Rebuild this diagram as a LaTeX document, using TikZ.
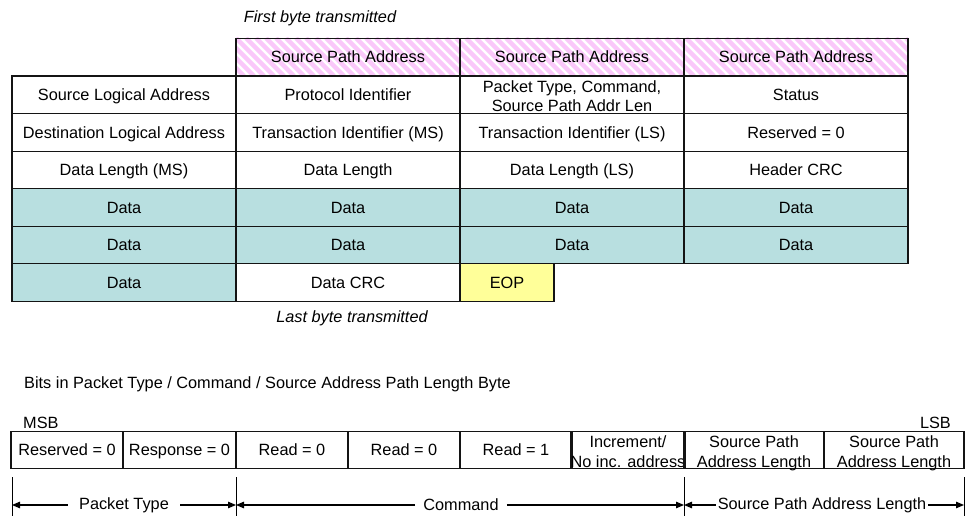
\documentclass[tikz,border=0pt]{standalone}
\usepackage{fontspec}
\setmainfont{Liberation Sans}
\usetikzlibrary{arrows.meta}
\definecolor{datafill}{RGB}{184,223,224}
\definecolor{eopfill}{RGB}{255,255,153}
\definecolor{stripe}{RGB}{250,200,250}
\definecolor{gridline}{RGB}{20,20,20}
\begin{document}
\begin{tikzpicture}[x=1pt,y=-1pt,
  every node/.style={font=\fontsize{16.3}{19.4}\selectfont},
  cell/.style={draw=gridline, line width=1.15pt, inner sep=0pt, minimum width=224pt, minimum height=37.57pt, align=center, text height=11.7pt, text depth=0pt},
  twoline/.style={text height=34.2pt, text depth=0pt},
  datacell/.style={cell, fill=datafill},
  bcell/.style={draw=gridline, line width=1.15pt, inner sep=0pt, minimum height=37.5pt, align=center, text height=11.7pt, text depth=0pt},
  note/.style={font=\fontsize{16.3}{19.4}\selectfont\itshape, inner sep=0pt},
  plain/.style={inner sep=0pt},
  arr/.style={line width=1.2pt, -{Triangle[length=8pt,width=6.5pt]}},
  tick/.style={line width=1pt}]
\useasboundingbox (0,0) rectangle (967,516);

% striped header background
\begin{scope}
  \clip (236,38) rectangle (908,76);
  \foreach \i in {-60,-50,...,700} {
    \draw[stripe, line width=4.5pt] ({236+\i},38) -- ++(38,38);
  }
\end{scope}

\node[note, anchor=base] (first) at (320,23) {First byte transmitted};

% header row
\node[cell] (h2) at (348,57) {Source Path Address};
\node[cell] (h3) at (572,57) {Source Path Address};
\node[cell] (h4) at (796,57) {Source Path Address};

% row 1
\node[cell] (r1c1) at (124,94.8) {Source Logical Address};
\node[cell] (r1c2) at (348,94.8) {Protocol Identifier};
\node[cell, twoline] (r1c3) at (572,94.8) {Packet Type, Command,\\Source Path Addr Len};
\node[cell] (r1c4) at (796,94.8) {Status};
% row 2
\node[cell] (r2c1) at (124,132.4) {Destination Logical Address};
\node[cell] (r2c2) at (348,132.4) {Transaction Identifier (MS)};
\node[cell] (r2c3) at (572,132.4) {Transaction Identifier (LS)};
\node[cell] (r2c4) at (796,132.4) {Reserved = 0};
% row 3
\node[cell] (r3c1) at (124,169.9) {Data Length (MS)};
\node[cell] (r3c2) at (348,169.9) {Data Length};
\node[cell] (r3c3) at (572,169.9) {Data Length (LS)};
\node[cell] (r3c4) at (796,169.9) {Header CRC};
% data rows
\node[datacell] (r4c1) at (124,207.5) {Data};
\node[datacell] (r4c2) at (348,207.5) {Data};
\node[datacell] (r4c3) at (572,207.5) {Data};
\node[datacell] (r4c4) at (796,207.5) {Data};
\node[datacell] (r5c1) at (124,245.1) {Data};
\node[datacell] (r5c2) at (348,245.1) {Data};
\node[datacell] (r5c3) at (572,245.1) {Data};
\node[datacell] (r5c4) at (796,245.1) {Data};
% last row
\node[datacell] (r6c1) at (124,282.7) {Data};
\node[cell] (r6c2) at (348,282.7) {Data CRC};
\node[cell, fill=eopfill, minimum width=94pt] (eop) at (507,282.7) {EOP};

\node[note, anchor=base] (last) at (352,322.7) {Last byte transmitted};

% bits section
\node[plain, anchor=base west] (bits) at (24,388) {Bits in Packet Type / Command / Source Address Path Length Byte};
\node[plain, anchor=base west] (msb) at (23,428) {MSB};
\node[plain, anchor=base east] (lsb) at (951,428) {LSB};

\node[bcell, minimum width=112pt] (b7) at (67,450) {Reserved = 0};
\node[bcell, minimum width=113pt] (b6) at (179.5,450) {Response = 0};
\node[bcell, minimum width=112pt] (b5) at (292,450) {Read = 0};
\node[bcell, minimum width=112pt] (b4) at (404,450) {Read = 0};
\node[bcell, minimum width=112pt] (b3) at (516,450) {Read = 1};
\node[bcell, twoline, minimum width=112pt] (b2) at (628,450) {Increment/\\No inc. address};
\node[bcell, twoline, minimum width=140pt] (b1) at (754,450) {Source Path\\Address Length};
\node[bcell, twoline, minimum width=140pt] (b0) at (894,450) {Source Path\\Address Length};

% dimension ticks
\coordinate (k0t) at (12,477);  \coordinate (k0b) at (12,516);
\coordinate (k1t) at (236,477); \coordinate (k1b) at (236,516);
\coordinate (k2t) at (684,477); \coordinate (k2b) at (684,516);
\coordinate (k3t) at (964,477); \coordinate (k3b) at (964,516);
\draw[tick] (k0t) -- (k0b);
\draw[tick] (k1t) -- (k1b);
\draw[tick] (k2t) -- (k2b);
\draw[tick] (k3t) -- (k3b);
\coordinate (a0) at (12,505);
\coordinate (a1) at (236,505);
\coordinate (a2) at (684,505);
\coordinate (a3) at (964,505);

\node[plain, inner xsep=11pt] (pt) at (124,505) {Packet Type};
\draw[arr] (pt.west) -- (a0);
\draw[arr] (pt.east) -- (a1);
\node[plain, inner xsep=8pt] (cmd) at (461,505) {Command};
\draw[arr] (cmd.west) -- (a1);
\draw[arr] (cmd.east) -- (a2);
\node[plain, inner xsep=2pt] (spal) at (822,505) {Source Path Address Length};
\draw[arr] (spal.west) -- (a2);
\draw[arr] (spal.east) -- (a3);
\end{tikzpicture}
\end{document}
